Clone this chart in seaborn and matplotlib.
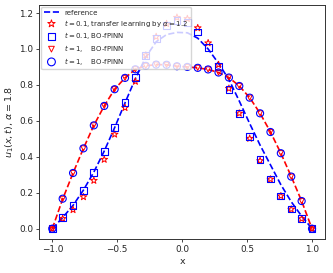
import matplotlib
matplotlib.use("Agg")
import matplotlib.pyplot as plt
import numpy as np
import seaborn as sns

# grid of collocation points
x = np.round(np.linspace(-1.0, 1.0, 26), 2)

# reference solutions
ref_t01 = [0.0, 0.062, 0.13, 0.215, 0.315, 0.432, 0.562, 0.70, 0.835, 0.955, 1.04, 1.08, 1.092,
           1.09, 1.06, 1.0, 0.92, 0.83, 0.71, 0.585, 0.465, 0.355, 0.245, 0.15, 0.07, 0.0]
ref_t1 = [0.0, 0.165, 0.31, 0.447, 0.575, 0.683, 0.776, 0.839, 0.887, 0.906, 0.913, 0.912, 0.904,
          0.90, 0.895, 0.886, 0.869, 0.841, 0.794, 0.729, 0.642, 0.538, 0.42, 0.29, 0.154, 0.0]

# predictions
tl_t01 = [0.0, 0.056, 0.105, 0.177, 0.268, 0.385, 0.525, 0.673, 0.819, 0.965, 1.068, 1.14, 1.175,
          1.168, 1.117, 1.033, 0.912, 0.78, 0.642, 0.502, 0.378, 0.275, 0.182, 0.108, 0.055, 0.0]
bo_t01 = [0.0, 0.061, 0.13, 0.212, 0.313, 0.43, 0.564, 0.703, 0.841, 0.964, 1.06, 1.13, 1.158,
          1.148, 1.094, 1.008, 0.902, 0.776, 0.642, 0.512, 0.387, 0.277, 0.182, 0.11, 0.056, 0.0]
bo_t1_tri = [0.0, 0.166, 0.31, 0.447, 0.575, 0.683, 0.776, 0.839, 0.887, 0.906, 0.913, 0.912, 0.904,
             0.90, 0.895, 0.886, 0.869, 0.841, 0.794, 0.729, 0.642, 0.538, 0.42, 0.29, 0.154, 0.0]
bo_t1_circ = [0.0, 0.167, 0.31, 0.447, 0.575, 0.683, 0.776, 0.839, 0.887, 0.906, 0.913, 0.912, 0.904,
              0.90, 0.895, 0.886, 0.869, 0.841, 0.794, 0.729, 0.642, 0.538, 0.42, 0.29, 0.154, 0.0]

sns.set_theme(style="ticks")
plt.rcParams["font.family"] = ["DejaVu Sans"]
plt.rcParams["mathtext.fontset"] = "dejavusans"

fig = plt.figure(figsize=(3.33, 2.73), dpi=100)
ax = fig.add_axes([0.118, 0.126, 0.858, 0.856])

sns.lineplot(x=x, y=ref_t01, color="blue", linestyle="--", linewidth=1.2, label="reference", ax=ax)
sns.lineplot(x=x, y=ref_t1, color="red", linestyle="--", linewidth=1.2, label="_nolegend_", ax=ax)

sns.scatterplot(x=x, y=tl_t01, marker="*", s=26, fc="none", ec="red", linewidth=0.7,
                label=r"$t=0.1$, transfer learning by $\alpha=1.2$", ax=ax, zorder=3)
sns.scatterplot(x=x, y=bo_t01, marker="s", s=24, fc="none", ec="blue", linewidth=0.8,
                label=r"$t=0.1$, BO-fPINN", ax=ax, zorder=3)
sns.scatterplot(x=x, y=bo_t1_tri, marker="v", s=14, fc="none", ec="red", linewidth=0.7,
                label=r"$t=1$,    BO-fPINN", ax=ax, zorder=3)
sns.scatterplot(x=x, y=bo_t1_circ, marker="o", s=26, fc="none", ec="blue", linewidth=0.8,
                label=r"$t=1$,    BO-fPINN", ax=ax, zorder=3)

ax.set_xlim(-1.1, 1.1)
ax.set_ylim(-0.055, 1.245)
ax.set_xticks([-1.0, -0.5, 0.0, 0.5, 1.0])
ax.set_yticks([0.0, 0.2, 0.4, 0.6, 0.8, 1.0, 1.2])
ax.tick_params(labelsize=6.4, length=2.5, width=0.6, pad=2)
for sp in ax.spines.values():
    sp.set_linewidth(0.7)
    sp.set_color("#333333")
ax.set_xlabel("x", fontsize=6.8, labelpad=2)
ax.set_ylabel(r"$u_1(x,t)$, $\alpha=1.8$", fontsize=6.8, labelpad=2)

ax.legend(loc="upper left", fontsize=5.0, framealpha=0.8, borderpad=0.4,
          handlelength=2.1, labelspacing=0.25, borderaxespad=0.3, markerscale=1.1)

fig.savefig("out.png", dpi=100)
